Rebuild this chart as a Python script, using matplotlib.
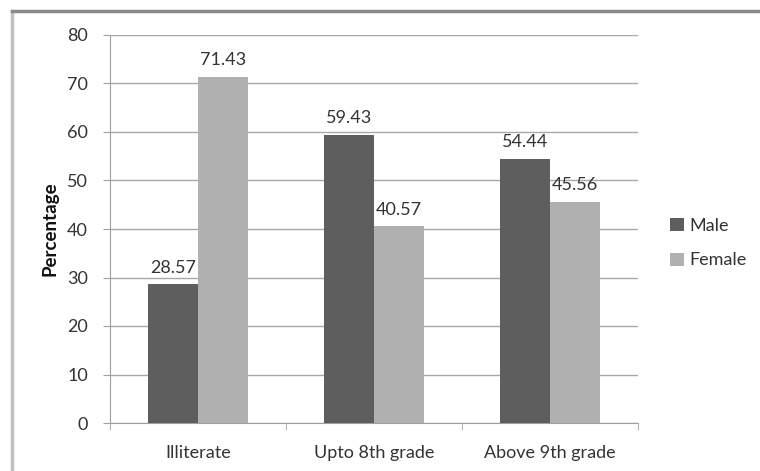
import matplotlib.pyplot as plt
import matplotlib.lines as mlines
import numpy as np

categories = ["Illiterate", "Upto 8th grade", "Above 9th grade"]
male = [28.57, 59.43, 54.44]
female = [71.43, 40.57, 45.56]
y_ticks = [0, 10, 20, 30, 40, 50, 60, 70, 80]

plt.rcParams['font.family'] = ['Lato', 'DejaVu Sans']

W, H = 760, 471
fig = plt.figure(figsize=(W / 100, H / 100), dpi=100)

# plot area in pixel coordinates
left, right, top, bottom = 110, 638, 35, 423
ax = fig.add_axes([left / W, 1 - bottom / H, (right - left) / W, (bottom - top) / H])

FS = 13
TXT = "#333333"

x = np.arange(len(categories))
bw = 0.284
male_color = "#5e5e5e"
female_color = "#b0b0b0"
b1 = ax.bar(x - bw / 2, male, bw, color=male_color, zorder=3, label="Male")
b2 = ax.bar(x + bw / 2, female, bw, color=female_color, zorder=3, label="Female")

for bars, vals in ((b1, male), (b2, female)):
    for rect, v in zip(bars, vals):
        ax.text(rect.get_x() + rect.get_width() / 2, v + 1.8, f"{v:.2f}",
                ha="center", va="bottom", fontsize=FS, color=TXT)

ax.set_xlim(-0.5, len(categories) - 0.5)
ax.set_ylim(0, 80)
ax.set_yticks(y_ticks)
ax.set_yticklabels([str(t) for t in y_ticks], fontsize=FS, color=TXT)
ax.yaxis.grid(True, color="#a8a8a8", linewidth=1.0, zorder=0)
ax.set_axisbelow(True)

# category labels between boundary ticks
ax.set_xticks(x)
ax.set_xticklabels(categories, fontsize=FS, color=TXT)
ax.tick_params(axis="x", length=0, pad=16)
ax.set_xticks(np.arange(-0.5, len(categories)), minor=True)
ax.tick_params(axis="x", which="minor", length=5, color="#a0a0a0", direction="out")
ax.tick_params(axis="y", length=5, color="#a0a0a0", direction="out", pad=11)

for s in ("top", "right"):
    ax.spines[s].set_visible(False)
ax.spines["left"].set_color("#a0a0a0")
ax.spines["bottom"].set_color("#a0a0a0")

ax.set_ylabel("Percentage", fontsize=13.5, fontweight="bold", color="#111111", labelpad=6)

leg = ax.legend(loc="center left", bbox_to_anchor=(670 / W, 1 - 243 / H),
                bbox_transform=fig.transFigure, frameon=False, borderaxespad=0,
                borderpad=0, fontsize=FS, handlelength=0.75, handleheight=0.75,
                handletextpad=0.3, labelspacing=1.05, labelcolor=TXT)

# outer chart frame
fig.add_artist(mlines.Line2D([12 / W, 12 / W], [0, 1 - 11 / H], transform=fig.transFigure,
                             color="#c0c0c0", linewidth=2.5))
fig.add_artist(mlines.Line2D([12 / W, 1], [1 - 11 / H, 1 - 11 / H], transform=fig.transFigure,
                             color="#8a8a8a", linewidth=2.5))

fig.savefig("out.png", dpi=100)
